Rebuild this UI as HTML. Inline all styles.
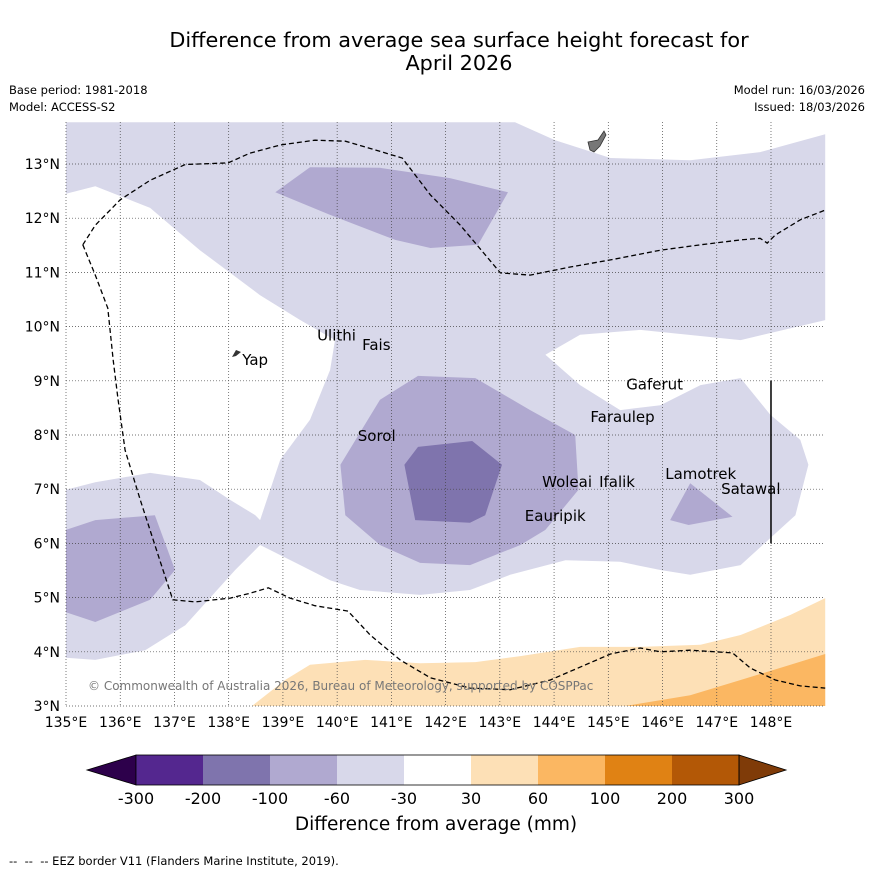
<!DOCTYPE html>
<html><head><meta charset="utf-8"><style>
body{margin:0;background:#fff;font-family:"Liberation Sans","DejaVu Sans",sans-serif}
</style></head><body>
<svg id="chart" width="873" height="873" viewBox="0 0 873 873" xmlns="http://www.w3.org/2000/svg" font-family="DejaVu Sans, Liberation Sans, sans-serif">
<rect width="873" height="873" fill="#fff"/>
<text x="459" y="47" font-size="20.8" text-anchor="middle">Difference from average sea surface height forecast for</text>
<text x="459" y="70" font-size="20.8" text-anchor="middle">April 2026</text>
<text x="9" y="94" font-size="11.5">Base period: 1981-2018</text>
<text x="9" y="111" font-size="11.5">Model: ACCESS-S2</text>
<text x="865" y="94" font-size="11.5" text-anchor="end">Model run: 16/03/2026</text>
<text x="865" y="111" font-size="11.5" text-anchor="end">Issued: 18/03/2026</text>
<g id="map"></g>
<g id="cbar"></g>
<text x="436" y="830" font-size="18.5" text-anchor="middle">Difference from average (mm)</text>
<text x="9" y="865" font-size="11.5" xml:space="preserve">--  --  -- EEZ border V11 (Flanders Marine Institute, 2019).</text>
</svg>
<script>
const lonTicks=[135,136,137,138,139,140,141,142,143,144,145,146,147,148];
const latTicks=[3,4,5,6,7,8,9,10,11,12,13];
const lightPoly=[[135,13.77],[143.28,13.77],[144.02,13.44],[145.04,13.11],[146.51,13.07],[147.8,13.22],[149,13.55],[149,10.12],[147.44,9.75],[145.59,9.94],[144.48,9.85],[143.84,9.48],[144.48,8.92],[145.22,8.46],[145.96,8.55],[146.7,8.92],[147.44,9.05],[147.99,8.37],[148.54,7.91],[148.69,7.45],[148.45,6.52],[147.44,5.6],[146.51,5.42],[145.96,5.51],[145.22,5.66],[144.21,5.69],[143.19,5.42],[142.45,5.14],[141.53,5.05],[140.42,5.14],[139.87,5.32],[139.32,5.6],[138.58,5.97],[138.12,5.51],[137.2,4.49],[136.46,4.03],[135.54,3.85],[135,3.89],[135,6.99],[135.54,7.13],[136.55,7.3],[137.47,7.17],[138.03,6.8],[138.49,6.52],[138.58,6.43],[138.95,7.54],[139.5,8.28],[139.87,9.2],[139.96,9.75],[139.32,10.12],[138.58,10.58],[137.47,11.41],[136.55,12.19],[135.54,12.59],[135,12.45]];
const medPolyTop=[[138.86,12.48],[139.5,12.94],[140.79,12.93],[142.08,12.74],[143.15,12.48],[142.6,11.51],[141.72,11.45],[141.07,11.6],[139.87,12.06]];
const medPolyCentral=[[140.06,7.45],[140.79,8.65],[141.49,9.09],[142.55,9.05],[143.56,8.46],[144.39,8.0],[144.45,6.99],[143.84,6.25],[143.38,5.97],[142.45,5.6],[141.53,5.64],[140.79,5.97],[140.15,6.52]];
const medPolyLeft=[[135,6.25],[135.54,6.43],[136.64,6.52],[137.01,5.51],[136.55,4.96],[135.54,4.55],[135,4.73]];
const medPolyRight=[[146.14,6.43],[146.51,7.11],[147.29,6.49],[146.48,6.34]];
const darkPoly=[[141.24,7.45],[141.49,7.78],[142.49,7.89],[143.04,7.45],[142.73,6.52],[142.45,6.38],[141.44,6.43]];
const orangeLight=[[138.43,3.0],[139.04,3.48],[139.5,3.76],[140.52,3.85],[141.53,3.79],[142.55,3.81],[143.38,3.92],[144.48,4.09],[145.59,4.09],[146.7,4.13],[147.44,4.31],[148.36,4.68],[149,4.99],[149,3.0]];
const orangeMid=[[145.31,3.0],[146.51,3.2],[147.44,3.48],[148.36,3.76],[149,3.96],[149,3.0]];
const eezA=[[135.31,11.51],[135.54,11.87],[136.0,12.34],[136.55,12.7],[137.2,12.99],[137.99,13.02],[138.39,13.2],[138.95,13.35],[139.59,13.44],[140.15,13.42],[140.7,13.26],[141.2,13.11],[141.72,12.43],[142.27,11.87],[143.01,10.99],[143.56,10.95],[144.3,11.1],[145.04,11.23],[145.96,11.41],[146.7,11.51],[147.44,11.6],[147.8,11.63],[147.93,11.54],[148.08,11.69],[148.54,11.97],[149,12.15]];
const eezB=[[135.31,11.51],[135.54,10.95],[135.77,10.34],[135.87,9.38],[135.96,8.65],[136.09,7.72],[136.37,6.8],[136.73,5.69],[136.97,4.96],[137.38,4.92],[138.03,4.99],[138.39,5.08],[138.73,5.18],[139.13,4.99],[139.59,4.85],[140.2,4.75],[140.61,4.31],[141.16,3.85],[141.72,3.52],[142.45,3.33],[143.19,3.3],[143.93,3.48],[144.58,3.76],[145.04,3.96],[145.59,4.07],[145.96,4.0],[146.51,4.03],[147.29,3.98],[147.62,3.7],[148.08,3.48],[148.54,3.37],[149,3.33]];
const places=["Ulithi","Fais","Yap","Sorol","Gaferut","Faraulep","Woleai","Ifalik","Lamotrek","Satawal","Eauripik"];
const placeLon=[139.63,140.46,138.25,140.38,145.33,144.67,143.78,144.83,146.05,147.08,143.46];
const placeLat=[9.85,9.68,9.4,8.0,8.95,8.35,7.15,7.15,7.3,7.02,6.52];
const cbLabels=["-300","-200","-100","-60","-30","30","60","100","200","300"];
const cbColors=["#54278f","#7f74ad","#b0a9d0","#d8d8ea","#ffffff","#fde0b6","#fbb762","#e08214","#b35806"];

const NS="http://www.w3.org/2000/svg";
const X=lon=>66+(lon-135)*54.23, Y=lat=>706-(lat-3)*54.2;
const map=document.getElementById('map');
function mk(tag,at,parent){const e=document.createElementNS(NS,tag);for(const k in at)e.setAttribute(k,at[k]);(parent||map).appendChild(e);return e;}
function pts(a){return a.map(p=>X(p[0]).toFixed(1)+','+Y(p[1]).toFixed(1)).join(' ');}
function poly(a,fill,name){const e=mk('polygon',{points:pts(a),fill:fill});

}
poly(lightPoly,'#d8d8ea','contour-minus30-60');
poly(medPolyTop,'#b0a9d0','contour-minus60-100-north');
poly(medPolyCentral,'#b0a9d0','contour-minus60-100-central');
poly(medPolyLeft,'#b0a9d0','contour-minus60-100-west');
poly(medPolyRight,'#b0a9d0','contour-minus60-100-east');
poly(darkPoly,'#7f74ad','contour-minus100-200');
poly(orangeLight,'#fde0b6','contour-30-60');
poly(orangeMid,'#fbb762','contour-60-100');
lonTicks.forEach(l=>{const e=mk('line',{x1:X(l),x2:X(l),y1:122,y2:706,stroke:'#444','stroke-width':0.7,'stroke-dasharray':'1,2'});


const t=mk('text',{x:X(l),y:727,'font-size':14,'text-anchor':'middle'});t.textContent=l+'°E';

});
latTicks.forEach(l=>{const e=mk('line',{x1:66,x2:825,y1:Y(l),y2:Y(l),stroke:'#444','stroke-width':0.7,'stroke-dasharray':'1,2'});


const t=mk('text',{x:60,y:Y(l)+5,'font-size':14,'text-anchor':'end'});t.textContent=l+'°N';

});
const guam=mk('polygon',{points:'588,142 598,140 604,131 606,135 600,146 594,152 590,150',fill:'#777',stroke:'#333','stroke-width':0.8});


const yap=mk('polygon',{points:'232,357 236,350 241,352 236,356',fill:'#333'});


[eezA,eezB].forEach(a=>{const e=mk('polyline',{points:pts(a),fill:'none',stroke:'#000','stroke-width':1.3,'stroke-dasharray':'5,3'});

});
const vl=mk('line',{x1:X(148),x2:X(148),y1:Y(9),y2:Y(6),stroke:'#000','stroke-width':1.5});


places.forEach((p,i)=>{const t=mk('text',{x:X(placeLon[i]),y:Y(placeLat[i])+6,'font-size':15});t.textContent=p;

});
const cp=mk('text',{x:88,y:690,'font-size':12,fill:'#777'});cp.textContent='© Commonwealth of Australia 2026, Bureau of Meteorology, supported by COSPPac';


const cb=document.getElementById('cbar');
const x0=136,w=67,y0=755,h=30;
const lt=mk('polygon',{points:`87,770 ${x0},${y0} ${x0},${y0+h}`,fill:'#2d004b',stroke:'#000','stroke-width':0.8},cb);


cbColors.forEach((c,i)=>{const r=mk('rect',{x:x0+i*w,y:y0,width:w,height:h,fill:c},cb);

});
const end=x0+cbColors.length*w;
const rt=mk('polygon',{points:`${end},${y0} 786,770 ${end},${y0+h}`,fill:'#7f3b08',stroke:'#000','stroke-width':0.8},cb);


mk('rect',{x:x0,y:y0,width:end-x0,height:h,fill:'none',stroke:'#000','stroke-width':0.8},cb);
cbLabels.forEach((l,i)=>{const t=mk('text',{x:x0+i*w,y:804,'font-size':16,'text-anchor':'middle'},cb);t.textContent=l;

});
</script>
</body></html>
